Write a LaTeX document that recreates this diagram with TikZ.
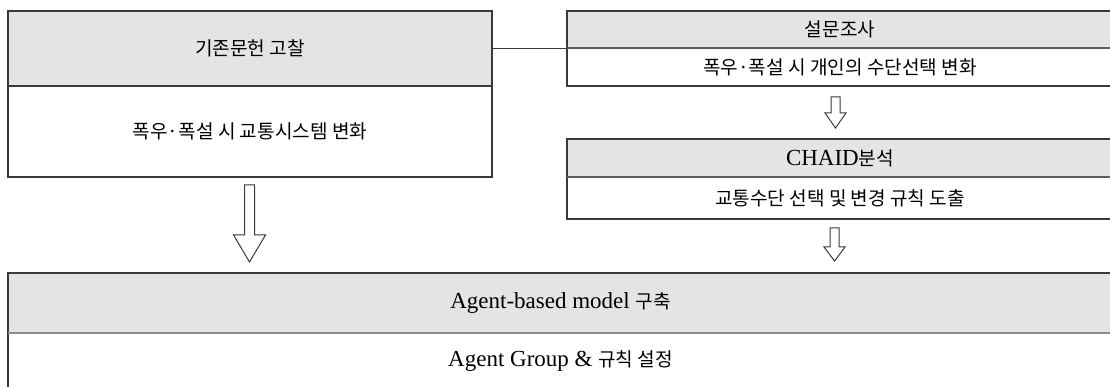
\documentclass[tikz,border=0pt]{standalone}
\usepackage{fontspec}
\setmainfont{Liberation Serif}
\newfontfamily\kr{Noto Sans CJK KR}[Scale=0.83]
\usetikzlibrary{calc}
\definecolor{hdrgray}{HTML}{E4E4E4}
\definecolor{edgec}{HTML}{3A3A3A}
\definecolor{divgray}{HTML}{8A8A8A}
\definecolor{midgray}{HTML}{5E5E5E}
\tikzset{
  box/.style={draw=edgec, line width=1.2pt, inner sep=0pt, outer sep=0pt, anchor=center},
  hdr/.style={box, fill=hdrgray},
  bodybox/.style={box, fill=white},
  blockarrow/.style={draw=edgec, line width=1pt, fill=white, line join=miter},
  pics/barrow/.style args={#1/#2/#3/#4}{code={
    % #1 total length, #2 head length, #3 shaft half width, #4 head half width
    \draw[blockarrow] (-#3,0) -- (#3,0) -- (#3,#1-#2) -- (#4,#1-#2) -- (0,#1)
      -- (-#4,#1-#2) -- (-#3,#1-#2) -- cycle;
  }}
}
\begin{document}
\begin{tikzpicture}[x=1pt, y=-1pt, font=\fontsize{23}{25}\selectfont]
\useasboundingbox (0,0) rectangle (1110,387);

% left column
\node[hdr, minimum width=484pt, minimum height=75pt] (lh) at (250,48.5) {\kr 기존문헌 고찰};
\node[bodybox, minimum width=484pt, minimum height=91pt] (lb) at (250,131.5) {\kr 폭우·폭설 시 교통시스템 변화};

% right column
\node[hdr, minimum width=546pt, minimum height=37pt] (sh) at (840,29.5) {\kr 설문조사};
\node[bodybox, minimum width=546pt, minimum height=38pt] (sb) at (840,67) {\kr 폭우·폭설 시 개인의 수단선택 변화};
\node[hdr, minimum width=546pt, minimum height=38pt] (ch) at (840,158) {CHAID{\kr 분석}};
\node[bodybox, minimum width=546pt, minimum height=42pt] (cb) at (840,198) {\kr 교통수단 선택 및 변경 규칙 도출};
\draw[midgray, line width=1.6pt] (sh.south west) -- (sh.south east);
\draw[midgray, line width=1.6pt] (ch.south west) -- (ch.south east);

% bottom
\node[hdr, minimum width=1105pt, minimum height=60pt] (ah) at (560.5,303) {Agent-based model {\kr 구축}};
\node[bodybox, minimum width=1105pt, minimum height=56pt] (ab) at (560.5,361) {Agent Group \& {\kr 규칙 설정}};
\draw[divgray, line width=2pt] (ah.south west) -- (ah.south east);

% connector
\draw[edgec, line width=1pt] (lh.east) -- (lh.east -| sh.west);

% block arrows
\coordinate (a1) at (249.5,185);
\coordinate (a2) at (835.5,97);
\coordinate (a3) at (834.5,228);
\pic at (a1) {barrow=77/27/5/16};
\pic at (a2) {barrow=31/15/4.5/10.5};
\pic at (a3) {barrow=33/14/4.5/10.5};
\end{tikzpicture}
\end{document}
